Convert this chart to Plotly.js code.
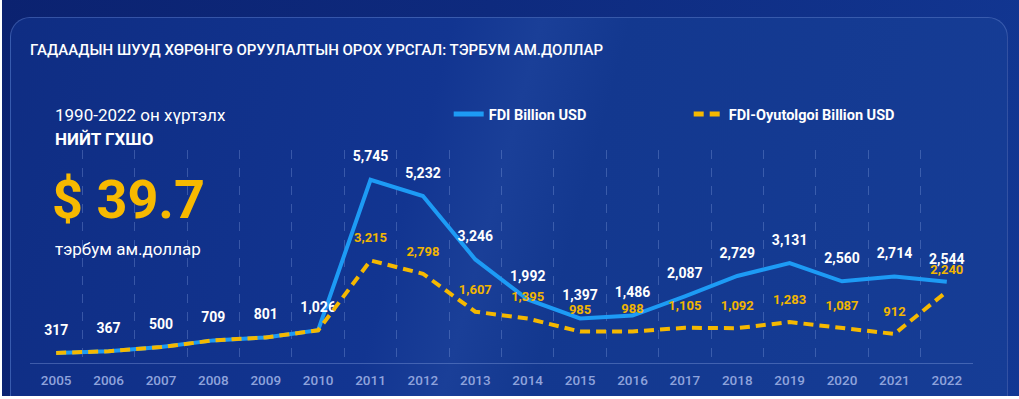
<!DOCTYPE html>
<html>
<head>
<meta charset="utf-8">
<script src="https://cdn.plot.ly/plotly-3.0.1.min.js"></script>
<style>
html,body{margin:0;padding:0;width:1019px;height:399px;overflow:hidden;background:#ffffff;}
#bg{position:absolute;left:2px;top:0;width:1017px;height:396px;overflow:hidden;
 background:linear-gradient(100deg,#0b2270 0%,#0e2a7e 45%,#123793 100%);}
#card{position:absolute;left:8px;top:17px;width:996px;height:420px;border-radius:20px;
 border:1px solid rgba(120,150,220,0.35);
 background:linear-gradient(105deg,#0f2d83 0%,#123591 40%,#1a3f98 48%,#13388f 56%,#163d96 100%);}
#chart{position:absolute;left:0;top:0;width:1019px;height:399px;}
</style>
</head>
<body>
<div id="bg"><div id="card"></div></div>
<div id="chart"></div>
<script>
var years = ['2005','2006','2007','2008','2009','2010','2011','2012','2013','2014','2015','2016','2017','2018','2019','2020','2021','2022'];
var fdi = [317,367,500,709,801,1026,5745,5232,3246,1992,1397,1486,2087,2729,3131,2560,2714,2544];
var oyutolgoi = [317,367,500,709,801,1026,3215,2798,1607,1395,985,988,1105,1092,1283,1087,912,2240];
var oyuLabels = ['','','','','','','3,215','2,798','1,607','1,395','985','988','1,105','1,092','1,283','1,087','912','2,240'];
var fmt = function(v){return v.toLocaleString('en-US');};

var traces = [
 {x: years, y: fdi, type:'scatter', mode:'lines+markers+text', name:'FDI Billion USD',
  line:{color:'#1d9bf5', width:4},
  marker:{size:22, color:'rgba(0,0,0,0)'},
  text: fdi.map(fmt), textposition:'top center',
  textfont:{family:'Roboto', size:14, color:'#ffffff', weight:700},
  cliponaxis:false},
 {x: years, y: oyutolgoi, type:'scatter', mode:'lines+markers+text', name:'FDI-Oyutolgoi Billion USD',
  line:{color:'#f5b800', width:4, dash:'10px,6px'},
  marker:{size:22, color:'rgba(0,0,0,0)'},
  text: oyuLabels, textposition:'top center',
  textfont:{family:'Roboto', size:13, color:'#f2b500', weight:700},
  cliponaxis:false}
];

var layout = {
 width:1019, height:399,
 margin:{l:30, r:46, t:150, b:36},
 paper_bgcolor:'rgba(0,0,0,0)', plot_bgcolor:'rgba(0,0,0,0)',
 title:{text:'ГАДААДЫН ШУУД ХӨРӨНГӨ ОРУУЛАЛТЫН ОРОХ УРСГАЛ: ТЭРБУМ АМ.ДОЛЛАР',
  xref:'container', yref:'container', x:30/1019, xanchor:'left', y:1-50/399, yanchor:'middle',
  font:{family:'Roboto', size:15, color:'#ffffff', weight:500}},
 showlegend:true,
 legend:{orientation:'h', x:0.444, y:1.169, xanchor:'left', yanchor:'middle',
  bgcolor:'rgba(0,0,0,0)', font:{family:'Roboto', size:14.5, color:'#ffffff', weight:700},
  entrywidth:195, entrywidthmode:'pixels', itemsizing:'constant'},
 xaxis:{type:'category', range:[-0.5,17.5], tickson:'boundaries', showgrid:true, griddash:'dash',
  gridcolor:'rgba(150,175,235,0.3)', gridwidth:1,
  showline:true, linecolor:'rgba(150,175,235,0.35)', mirror:false, zeroline:false,
  ticks:'', ticklabelstandoff:5,
  tickfont:{family:'Roboto', size:13.5, color:'#8fa3dc', weight:500}, fixedrange:true},
 yaxis:{range:[0,6677], showgrid:false, zeroline:false, showticklabels:false, showline:false, fixedrange:true},
 annotations:[
  {text:'1990-2022 он хүртэлх', xref:'paper', yref:'paper', x:(53-30)/943, y:(363-115)/213,
   xanchor:'left', yanchor:'middle', showarrow:false,
   font:{family:'Roboto', size:17, color:'#ffffff'}},
  {text:'НИЙТ ГХШО', xref:'paper', yref:'paper', x:(53-30)/943, y:(363-139)/213,
   xanchor:'left', yanchor:'middle', showarrow:false,
   font:{family:'Roboto', size:17, color:'#ffffff', weight:700}},
  {text:'$ 39.7', xref:'paper', yref:'paper', x:(50-30)/943, y:(363-199)/213,
   xanchor:'left', yanchor:'middle', showarrow:false,
   font:{family:'Roboto', size:54, color:'#f7b900', weight:700}},
  {text:'тэрбум ам.доллар', xref:'paper', yref:'paper', x:(53-30)/943, y:(363-249)/213,
   xanchor:'left', yanchor:'middle', showarrow:false,
   font:{family:'Roboto', size:17, color:'#ffffff'}}
 ]
};

Plotly.newPlot('chart', traces, layout, {staticPlot:true, displayModeBar:false});
</script>
</body>
</html>
